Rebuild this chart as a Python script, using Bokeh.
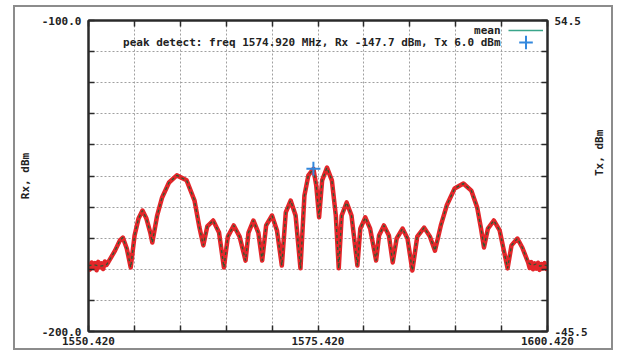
import math
from bokeh.plotting import figure
from bokeh.models import Range1d, LinearAxis, FixedTicker, Legend, LegendItem, Label
from bokeh.core.properties import value
from bokeh.embed import file_html
from bokeh.resources import INLINE

# ---- data ----
freq_mean = [1550.42, 1551.06, 1551.70, 1552.34, 1552.56, 1553.31, 1553.84, 1554.16, 1554.59, 1555.02,
             1555.44, 1555.87, 1556.30, 1556.73, 1557.15, 1557.37, 1557.90, 1558.44, 1559.19, 1560.04,
             1561.11, 1561.97, 1562.50, 1562.93, 1563.36, 1564.00, 1564.64, 1565.17, 1565.60, 1566.24,
             1566.88, 1567.53, 1567.85, 1568.38, 1568.92, 1569.34, 1569.77, 1570.41, 1570.95, 1571.48,
             1571.91, 1572.44, 1572.98, 1573.51, 1573.94, 1574.37, 1574.92, 1575.23, 1575.54, 1575.87,
             1576.40, 1576.93, 1577.36, 1577.68, 1578.00, 1578.54, 1579.07, 1579.71, 1580.03, 1580.57,
             1581.10, 1581.75, 1582.07, 1582.60, 1583.14, 1583.56, 1583.99, 1584.63, 1585.17, 1585.70,
             1586.23, 1586.98, 1587.62, 1588.16, 1588.80, 1589.44, 1590.30, 1591.26, 1592.12, 1592.76,
             1593.18, 1593.50, 1593.93, 1594.57, 1595.21, 1596.07, 1596.50, 1597.14, 1597.67, 1598.31,
             1598.74, 1599.17, 1599.60, 1600.02, 1600.42]
rx_mean = [-178.8, -178.6, -179.0, -178.7, -177.8, -174.0, -170.7, -169.8, -173.3, -179.4,
           -169.1, -163.7, -161.1, -163.7, -168.2, -171.4, -162.7, -156.9, -152.1, -149.8,
           -151.4, -157.9, -166.5, -172.3, -166.2, -164.3, -168.2, -179.4, -169.5, -165.9,
           -169.5, -177.2, -168.2, -164.3, -168.2, -177.2, -165.9, -162.7, -167.5, -178.8,
           -161.7, -157.9, -162.7, -179.7, -156.3, -149.8, -147.7, -153.1, -163.3, -151.4,
           -147.3, -151.4, -162.7, -179.7, -162.7, -158.5, -162.7, -178.8, -166.9, -163.3,
           -166.9, -177.2, -169.1, -165.9, -169.1, -177.8, -170.1, -166.9, -170.1, -180.4,
           -169.5, -166.6, -169.5, -174.0, -165.9, -159.5, -154.0, -152.4, -154.7, -160.1,
           -166.9, -173.0, -166.9, -164.3, -167.5, -179.7, -172.3, -170.1, -173.0, -177.8,
           -178.8, -178.3, -179.0, -178.6, -178.8]

# noisy floor of the measured trace at both ends
floor_left_freq = [1550.42, 1550.58, 1550.76, 1550.94, 1551.12, 1551.30, 1551.48, 1551.66,
                   1551.84, 1552.02, 1552.20, 1552.38]
floor_left_rx = [-178.2, -180.1, -177.8, -179.6, -178.0, -180.3, -177.6, -179.4,
                 -178.1, -179.9, -177.5, -178.6]
floor_right_freq = [1598.48, 1598.66, 1598.84, 1599.02, 1599.20, 1599.38, 1599.56, 1599.74,
                    1599.92, 1600.10, 1600.28, 1600.42]
floor_right_rx = [-179.6, -177.7, -180.0, -178.1, -179.8, -177.9, -180.2, -178.3,
                  -179.7, -178.0, -179.9, -178.4]

peak_freq = [1574.92]
peak_rx = [-147.7]

x_ticks = [1550.42, 1555.42, 1560.42, 1565.42, 1570.42, 1575.42, 1580.42, 1585.42, 1590.42, 1595.42, 1600.42]
x_tick_labels = {1550.42: "1550.420", 1575.42: "1575.420", 1600.42: "1600.420"}
rx_ticks = [-200, -190, -180, -170, -160, -150, -140, -130, -120, -110, -100]
rx_tick_labels = {-200: "-200.0", -100: "-100.0"}
tx_ticks = [-45.5, -35.5, -25.5, -15.5, -5.5, 4.5, 14.5, 24.5, 34.5, 44.5, 54.5]
tx_tick_labels = {-45.5: "-45.5", 54.5: "54.5"}

legend_mean = "mean"
legend_peak = "peak detect: freq 1574.920 MHz, Rx -147.7 dBm, Tx 6.0 dBm"
rx_title = "Rx, dBm"
tx_title = "Tx, dBm"

# measured trace = noisy floors + the lobes
i0 = freq_mean.index(1552.56)
i1 = freq_mean.index(1598.31)
freq_meas = floor_left_freq + freq_mean[i0:i1 + 1] + floor_right_freq
rx_meas = floor_left_rx + rx_mean[i0:i1 + 1] + floor_right_rx

FONT = "DejaVu Sans Mono"
DARK = "#2a2a2a"
TXT = "#222222"

W, H = 600, 345
BL, BR, BT, BB = 68, 64, 13, 21
FW, FH = W - BL - BR, H - BT - BB

p = figure(width=W, height=H, output_backend="svg", toolbar_location=None,
           x_range=Range1d(1550.42, 1600.42), y_range=Range1d(-200, -100),
           min_border_left=BL, min_border_right=BR, min_border_top=BT, min_border_bottom=BB,
           x_axis_location=None, y_axis_location=None)
p.extra_y_ranges = {"tx": Range1d(-45.5, 54.5)}
p.background_fill_color = "white"
p.border_fill_color = "white"
p.outline_line_color = DARK
p.outline_line_width = 2
# grey picture frame around the whole chart
p.styles = {"margin-left": "13px", "margin-top": "5px", "border": "2px solid #8c8c8c"}


def style_axis(ax, labels):
    ax.major_label_overrides = labels
    ax.major_label_text_font = FONT
    ax.major_label_text_font_style = "bold"
    ax.major_label_text_font_size = "11px"
    ax.major_label_text_color = TXT
    ax.axis_line_color = DARK
    ax.axis_line_width = 2
    ax.major_tick_line_color = DARK
    ax.major_tick_line_width = 1.5
    ax.major_tick_in = 6
    ax.major_tick_out = 0
    ax.minor_tick_line_color = None
    ax.axis_label_text_font = FONT
    ax.axis_label_text_font_style = "bold"
    ax.axis_label_text_font_size = "11px"
    ax.axis_label_text_color = TXT


xfix = FixedTicker(ticks=x_ticks)
yfix = FixedTicker(ticks=rx_ticks)
txfix = FixedTicker(ticks=tx_ticks)

below = LinearAxis(ticker=xfix)
style_axis(below, {t: x_tick_labels.get(t, "") for t in x_ticks})
below.major_label_standoff = 5
p.add_layout(below, "below")

above = LinearAxis(ticker=xfix)
style_axis(above, {t: "" for t in x_ticks})
above.major_label_text_font_size = "0px"
above.major_label_standoff = 0
p.add_layout(above, "above")

left = LinearAxis(ticker=yfix, axis_label=rx_title)
style_axis(left, {t: rx_tick_labels.get(t, "") for t in rx_ticks})
left.major_label_standoff = 7
left.axis_label_standoff = 7
p.add_layout(left, "left")

right = LinearAxis(ticker=txfix, y_range_name="tx", axis_label=tx_title)
style_axis(right, {t: tx_tick_labels.get(t, "") for t in tx_ticks})
right.major_label_standoff = 7
right.axis_label_standoff = 9
try:
    right.axis_label_orientation = math.pi / 2
except Exception:
    pass
p.add_layout(right, "right")

p.xgrid.ticker = xfix
p.ygrid.ticker = yfix
for g in (p.xgrid, p.ygrid):
    g.grid_line_color = "#a0a0a0"
    g.grid_line_dash = "2 2"
    g.grid_line_width = 1

mean_under = p.line(freq_mean, rx_mean, line_color="#3aa58a", line_width=1.6)
p.line(freq_meas, rx_meas, line_color="#e3262a", line_width=4.5, line_join="round")
p.line(freq_mean, rx_mean, line_color="#2c5a33", line_width=1.3, line_dash="3 3")
peak_r = p.scatter(peak_freq, peak_rx, marker="cross", size=14, line_color="#3388dd", line_width=2)

leg_common = dict(orientation="vertical", glyph_width=35, label_width=0,
                  label_standoff=0, spacing=0, padding=0, margin=0,
                  border_line_color=None, background_fill_alpha=0,
                  label_text_font_size="1px")
leg1 = Legend(items=[LegendItem(label=value(" "), renderers=[mean_under])],
              location=(420, FH - 10 - 6), glyph_height=12, label_height=12, **leg_common)
leg2 = Legend(items=[LegendItem(label=value(" "), renderers=[peak_r])],
              location=(420, FH - 22 - 17), glyph_height=34, label_height=34, **leg_common)
p.add_layout(leg1, "center")
p.add_layout(leg2, "center")

for txt, off in ((legend_mean, 10), (legend_peak, 22)):
    p.add_layout(Label(x=412, y=FH - off, x_units="screen", y_units="screen", text=txt,
                       text_align="right", text_baseline="middle",
                       text_font=FONT, text_font_style="bold",
                       text_font_size="11px", text_color=TXT))

open("out.html", "w").write(file_html(p, INLINE))
